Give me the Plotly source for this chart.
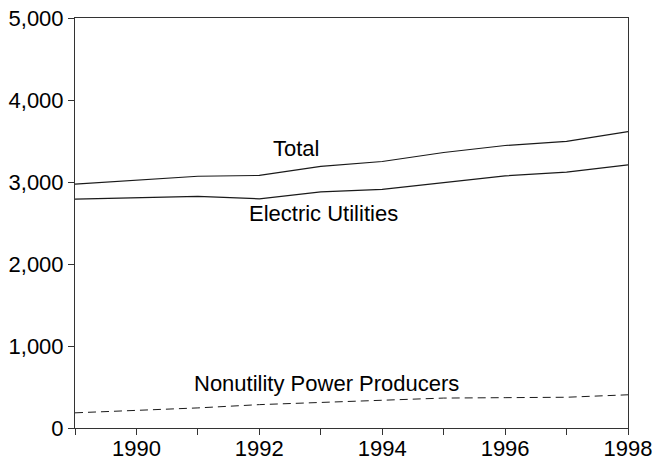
import plotly.graph_objects as go

years = [1989, 1990, 1991, 1992, 1993, 1994, 1995, 1996, 1997, 1998]
electric_utilities = [2790, 2810, 2825, 2795, 2880, 2910, 2995, 3075, 3120, 3210]
nonutility = [185, 215, 245, 285, 310, 340, 365, 370, 375, 405]
total = [2975, 3025, 3070, 3080, 3190, 3250, 3360, 3445, 3495, 3615]

fig = go.Figure()
line_col = "#1a1a1a"
fig.add_trace(go.Scatter(x=years, y=total, mode="lines", line=dict(color=line_col, width=1.2)))
fig.add_trace(go.Scatter(x=years, y=electric_utilities, mode="lines", line=dict(color=line_col, width=1.2)))
fig.add_trace(go.Scatter(x=years, y=nonutility, mode="lines", line=dict(color=line_col, width=1, dash="8px,5px")))

font = dict(family="Liberation Sans, Arial, sans-serif", size=22, color="#000000")
ann = [("Total", 1992.6, 3405), ("Electric Utilities", 1993.04, 2610), ("Nonutility Power Producers", 1993.09, 540)]
for t, x, y in ann:
    fig.add_annotation(x=x, y=y, text=t, showarrow=False, font=font, xanchor="center", yanchor="middle")

fig.update_layout(
    width=654, height=462,
    margin=dict(l=75, r=26, t=18, b=34, autoexpand=False),
    plot_bgcolor="white", paper_bgcolor="white",
    showlegend=False,
    font=font,
    xaxis=dict(range=[1989, 1998], tick0=1990, dtick=2, ticks="outside", ticklen=6, tickcolor="#333",
               showgrid=False, zeroline=False, showline=True, linecolor="#333", linewidth=1, mirror=True,
               automargin=False, ticklabelstandoff=-5,
               minor=dict(dtick=1, tick0=1989, ticks="outside", ticklen=6, tickcolor="#333", showgrid=False),
               tickfont=font),
    yaxis=dict(range=[0, 5000], dtick=1000, ticks="outside", ticklen=6, tickcolor="#333", tickformat=",d",
               showgrid=False, zeroline=False, showline=True, linecolor="#333", linewidth=1, mirror=True,
               automargin=False, tickfont=font),
)
fig.write_html("out.html", config={"displayModeBar": False},
               post_script="document.body.style.margin='0';document.body.style.overflow='hidden';")
